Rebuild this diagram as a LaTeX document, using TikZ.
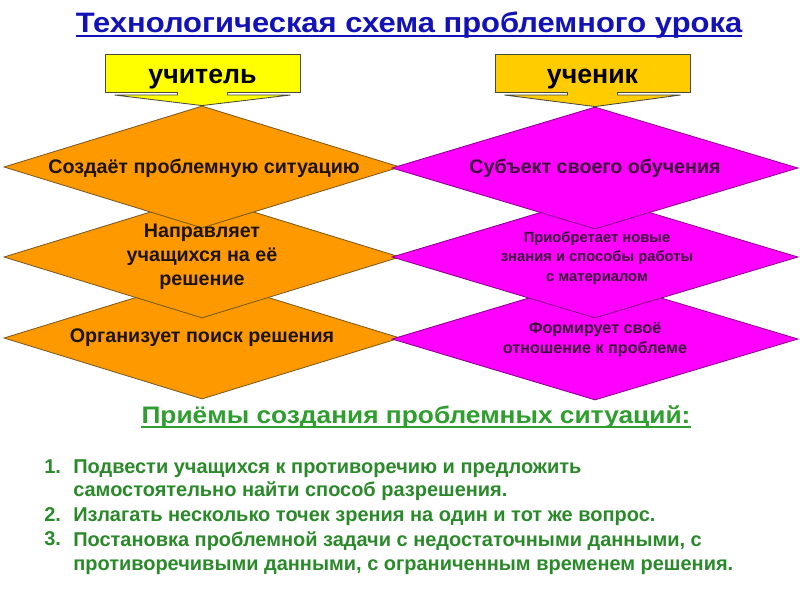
\documentclass[tikz,border=0pt]{standalone}
\usepackage{fontspec}
\setmainfont{Liberation Sans}
\newfontfamily\widefont[FakeStretch=1.1]{Liberation Sans}
\usetikzlibrary{shapes.geometric,calc,positioning}
\definecolor{titleblue}{HTML}{1212B8}
\definecolor{orangefill}{HTML}{FF9900}
\definecolor{orangeline}{HTML}{7A5A1E}
\definecolor{magentafill}{HTML}{FF00FF}
\definecolor{magentaline}{HTML}{8B008B}
\definecolor{teacheryellow}{HTML}{FFFF00}
\definecolor{pupilgold}{HTML}{FFCC00}
\definecolor{boxline}{HTML}{4A4A3A}
\definecolor{headgreen}{HTML}{2E9E2E}
\definecolor{listgreen}{HTML}{2A8A2A}
\definecolor{leftink}{HTML}{1C140A}
\definecolor{rightink}{HTML}{3D0A3D}
\tikzset{
  leftdiamond/.style={diamond,draw=orangeline,fill=orangefill,line width=0.6pt,
                      minimum width=9.9cm,minimum height=3.05cm,inner sep=0pt},
  rightdiamond/.style={diamond,draw=magentaline,fill=magentafill,line width=0.6pt,
                       minimum width=10.15cm,minimum height=3.05cm,inner sep=0pt},
  lefttext/.style={align=center,inner sep=0pt,text=leftink,
                   font=\bfseries\fontsize{14}{17}\selectfont},
  righttext/.style={align=center,inner sep=0pt,text=rightink,
                    font=\bfseries\fontsize{14}{17}\selectfont},
  rolebox/.style={draw=boxline,line width=0.6pt,minimum width=4.875cm,
                  minimum height=0.95cm,inner sep=0pt,outer sep=0pt,
                  text height=15pt,text depth=0pt,
                  font=\bfseries\fontsize{19}{22}\selectfont},
  pointer/.style={draw=boxline,line width=0.6pt},
  numlabel/.style={anchor=north west,inner sep=0pt,text=listgreen,
                   font=\bfseries\fontsize{14.2}{17}\selectfont},
  itemtext/.style={anchor=north west,align=left,inner sep=0pt,text=listgreen,
                   font=\bfseries\fontsize{14.2}{17}\selectfont}
}
\begin{document}
\begin{tikzpicture}[x=0.025cm,y=-0.025cm]
  \useasboundingbox (0,0) rectangle (800,600);
  \fill[white] (0,0) rectangle (800,600);

  % title
  \node[anchor=base,inner sep=0pt,text=titleblue,
        font=\widefont\bfseries\fontsize{20}{24}\selectfont] (title) at (409,32)
    {Технологическая схема проблемного урока};
  \draw[titleblue,line width=1.5pt] ($(title.base west)+(0,4)$) -- ($(title.base east)+(0,4)$);

  % teacher column
  \node[leftdiamond] (d3) at (202,338) {};
  \node[leftdiamond] (d2) at (202,257) {};
  \node[leftdiamond] (d1) at (202,167) {};
  % pupil column
  \node[rightdiamond] (r3) at (595,339) {};
  \node[rightdiamond] (r2) at (595,257) {};
  \node[rightdiamond] (r1) at (595,168) {};

  \node[lefttext] (t1) at ($(d1)+(2,1)$) {Создаёт проблемную ситуацию};
  \node[lefttext] (t2) at (d2) {Направляет\\учащихся на её\\решение};
  \node[lefttext] (t3) at (d3) {Организует поиск решения};
  \node[righttext] (s1) at (r1) {Субъект своего обучения};
  \node[righttext,font=\bfseries\fontsize{10.5}{13.9}\selectfont] (s2) at ($(r2)+(2,1)$)
    {Приобретает новые\\знания и способы работы\\с материалом};
  \node[righttext,font=\bfseries\fontsize{11.5}{14.3}\selectfont] (s3) at ($(r3)+(0,1)$)
    {Формирует своё\\отношение к проблеме};

  % callouts
  \node[rolebox,fill=teacheryellow] (teacher) at (202.5,73) {учитель};
  \filldraw[pointer,fill=teacheryellow] ($(teacher.south)+(-25,0)$) -- ++(0,3) -- ++(-63,0)
    -- (d1.north) -- ($(teacher.south)+(88,3)$) -- ++(-63,0) -- ++(0,-3);
  \node[rolebox,fill=pupilgold] (pupil) at (592.5,73) {ученик};
  \filldraw[pointer,fill=pupilgold] ($(pupil.south)+(-25,0)$) -- ++(0,3) -- ++(-63,0)
    -- (r1.north) -- ($(pupil.south)+(88,3)$) -- ++(-63,0) -- ++(0,-3);

  % methods
  \node[anchor=base,inner sep=0pt,text=headgreen,
        font=\widefont\bfseries\fontsize{17}{20}\selectfont] (heading) at (416,423)
    {Приёмы создания проблемных ситуаций:};
  \draw[headgreen,line width=1.5pt] ($(heading.base west)+(0,4)$) -- ($(heading.base east)+(0,4)$);

  \node[numlabel] (n1) at (44,459) {1.};
  \node[itemtext] (i1) at (73,459)
    {Подвести учащихся к противоречию и предложить\\самостоятельно найти способ разрешения.};
  \node[numlabel] (n2) at (44,507) {2.};
  \node[itemtext] (i2) at (73,507)
    {Излагать несколько точек зрения на один и тот же вопрос.};
  \node[numlabel] (n3) at (44,531) {3.};
  \node[itemtext] (i3) at (73,531)
    {Постановка проблемной задачи с недостаточными данными, с\\противоречивыми данными, с ограниченным временем решения.};
\end{tikzpicture}
\end{document}
